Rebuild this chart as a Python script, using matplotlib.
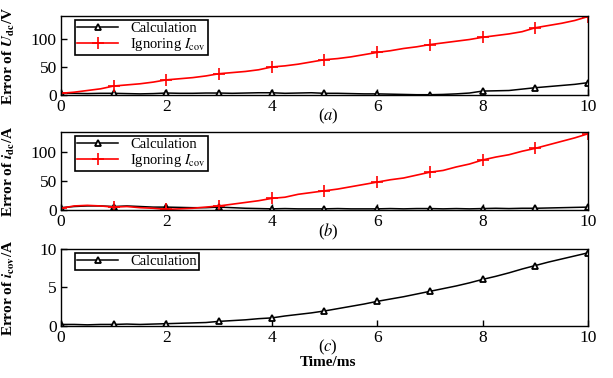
import numpy as np
import matplotlib
matplotlib.use("Agg")
import matplotlib.pyplot as plt

plt.rcParams['font.family'] = ['Liberation Serif', 'DejaVu Serif']
plt.rcParams['mathtext.fontset'] = 'stix'
plt.rcParams['xtick.direction'] = 'in'
plt.rcParams['ytick.direction'] = 'in'

# time axis (ms), sampled every 0.25 ms
t = np.arange(41) * 0.25

# (a) error of U_dc (V)
udc_calc = [3, 3, 2.5, 3, 3, 2.5, 2, 2.5, 3.5, 3, 3, 3.5, 3.5, 3, 3.5, 4, 4, 3, 3.5, 4,
            3, 3, 2.5, 2, 2, 1.5, 1, 0.5, 0.5, 1, 2, 3.5, 7, 7.5, 8, 10.5, 13, 15, 17, 19, 22]
udc_ign = [3, 5, 8, 11, 16, 18, 20, 23, 27, 29, 31, 34, 38, 40, 42, 45, 50, 52, 55, 59,
           63, 65, 68, 72, 76, 79, 83, 86, 90, 93, 96, 99, 103, 106, 109, 113, 120, 124, 128, 133, 140]

# (b) error of i_dc (A)
idc_calc = [4, 6, 7, 7, 6, 7, 6, 5, 5, 4.5, 4, 4, 5, 4, 3, 2.5, 2, 2.5, 2, 2,
            2, 2.5, 2, 2, 2, 2.5, 2, 2.5, 2.5, 2, 2.5, 2, 2.5, 3, 2.5, 3, 3, 3.5, 4, 4.5, 5]
idc_ign = [3, 7, 8, 7, 5, 6, 4, 3, 1, 2, 3, 5, 7, 10, 13, 16, 20, 22, 27, 30,
           33, 36, 40, 44, 48, 52, 55, 60, 65, 68, 74, 79, 86, 91, 95, 101, 106, 112, 118, 124, 131]

# (c) error of i_cov (A)
icov_calc = [0.2, 0.2, 0.15, 0.2, 0.2, 0.25, 0.2, 0.25, 0.3, 0.35, 0.4, 0.45, 0.6, 0.7, 0.8,
             0.95, 1.05, 1.3, 1.5, 1.7, 1.95, 2.25, 2.55, 2.85, 3.2, 3.5, 3.8, 4.15, 4.5, 4.85,
             5.2, 5.6, 6.05, 6.45, 6.9, 7.4, 7.85, 8.3, 8.7, 9.1, 9.5]

fig = plt.figure(figsize=(6.13, 3.78), dpi=100)
left, width = 0.0995, 0.8597
ax_a = fig.add_axes([left, 0.7487, width, 0.209])
ax_b = fig.add_axes([left, 0.4444, width, 0.2063])
ax_c = fig.add_axes([left, 0.1376, width, 0.2037])

calc_style = dict(color='black', lw=1.1, marker='^', markevery=4, markersize=5,
                  markerfacecolor='white', markeredgecolor='black', markeredgewidth=1.3,
                  label='Calculation')
ign_style = dict(color='red', lw=1.2, marker='+', markevery=4, markersize=8,
                 markeredgewidth=1.2, label=r'Ignoring $I_{\rm cov}$')

ax_a.plot(t, udc_calc, **calc_style)
ax_a.plot(t, udc_ign, **ign_style)
ax_a.set_ylim(0, 141)
ax_a.set_yticks([0, 50, 100])
ax_a.set_ylabel(r'Error of $\mathbfit{U}_{\mathbf{dc}}$/V', fontweight='bold', fontsize=11)

ax_b.plot(t, idc_calc, **calc_style)
ax_b.plot(t, idc_ign, **ign_style)
ax_b.set_ylim(0, 134)
ax_b.set_yticks([0, 50, 100])
ax_b.set_ylabel(r'Error of $\mathbfit{i}_{\mathbf{dc}}$/A', fontweight='bold', fontsize=11)

ax_c.plot(t, icov_calc, **calc_style)
ax_c.set_ylim(0, 10)
ax_c.set_yticks([0, 5, 10])
ax_c.set_ylabel(r'Error of $\mathbfit{i}_{\mathbf{cov}}$/A', fontweight='bold', fontsize=11)

for ax, lab in zip([ax_a, ax_b, ax_c], ['a', 'b', 'c']):
    ax.set_xlim(0, 10)
    ax.set_xticks([0, 2, 4, 6, 8, 10])
    ax.tick_params(labelsize=12.5, length=4, width=1, pad=3)
    ax.yaxis.set_label_coords(-0.083, 0.5)
    for s in ax.spines.values():
        s.set_linewidth(1)
    ax.text(0.507, -0.15, '(' + r'$\mathit{' + lab + '}$' + ')', transform=ax.transAxes,
            ha='center', va='top', fontsize=12)
    leg = ax.legend(loc='upper left', bbox_to_anchor=(0.027, 0.95), borderaxespad=0,
                    fontsize=10.5, fancybox=False, framealpha=1, edgecolor='black',
                    borderpad=0.15, labelspacing=0.05, handlelength=2.8)
    leg.get_frame().set_linewidth(1.2)

fig.text(0.535, 0.025, 'Time/ms', ha='center', va='bottom', fontweight='bold', fontsize=11)

fig.savefig('out.png', dpi=100)
